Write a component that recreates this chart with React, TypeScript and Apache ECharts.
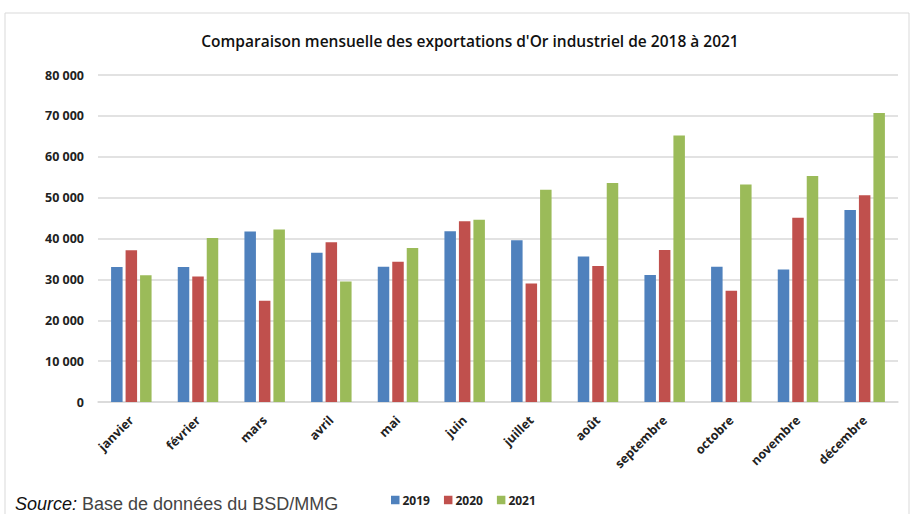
import React, { useEffect, useRef } from "react";
import * as echarts from "echarts";

const months = ["janvier", "février", "mars", "avril", "mai", "juin", "juillet", "août", "septembre", "octobre", "novembre", "décembre"];
const s2019 = [33000, 33000, 41700, 36500, 33100, 41800, 39600, 35600, 31100, 33100, 32400, 47000];
const s2020 = [37100, 30700, 24800, 39100, 34300, 44200, 29000, 33300, 37200, 27200, 45100, 50600];
const s2021 = [31000, 40100, 42200, 29500, 37700, 44600, 51900, 53600, 65200, 53200, 55300, 70700];
const years = ["2019", "2020", "2021"];
const colors = ["#4F81BD", "#C0504D", "#9BBB59"];

export default function App() {
  const ref = useRef<HTMLDivElement>(null);
  useEffect(() => {
    const chart = echarts.init(ref.current!, undefined, { renderer: "svg" });
    const data = [s2019, s2020, s2021];
    chart.setOption({
      animation: false,
      backgroundColor: "#fff",
      title: {
        text: "Comparaison mensuelle des exportations d'Or industriel de 2018 à 2021",
        left: 465,
        textAlign: "center",
        top: 28,
        textStyle: { fontFamily: "Open Sans", fontSize: 15.5, fontWeight: 600, color: "#111" },
      },
      legend: {
        data: years,
        left: 386,
        top: 489,
        itemWidth: 8.5,
        itemHeight: 8.5,
        itemGap: 14,
        icon: "rect",
        textStyle: { fontFamily: "Open Sans", fontSize: 12, fontWeight: 700, color: "#222", padding: [0, 0, 0, -2] },
      },
      grid: { left: 98, right: 14, top: 75, bottom: 112 },
      xAxis: {
        type: "category",
        data: months,
        axisLine: { lineStyle: { color: "#D9D9D9", width: 1.5 } },
        axisTick: { show: false },
        axisLabel: {
          rotate: 45,
          interval: 0,
          margin: 16,
          fontFamily: "Open Sans",
          fontSize: 12.5,
          fontWeight: 700,
          color: "#222",
        },
      },
      yAxis: {
        type: "value",
        min: 0,
        max: 80000,
        interval: 10000,
        axisLine: { show: false },
        axisTick: { show: false },
        splitLine: { lineStyle: { color: "#D9D9D9", width: 1.5 } },
        axisLabel: {
          margin: 14,
          fontFamily: "Open Sans",
          fontSize: 12.5,
          fontWeight: 700,
          color: "#222",
          formatter: (v: number) => String(v).replace(/\B(?=(\d{3})+(?!\d))/g, " "),
        },
      },
      series: years.map((y, i) => ({
        name: y,
        type: "bar",
        data: data[i],
        barWidth: 11.5,
        barGap: "26%",
        itemStyle: { color: colors[i] },
      })),
      graphic: [
        {
          type: "rect",
          shape: { x: 5, y: 13, width: 904, height: 530 },
          style: { fill: "none", stroke: "#D9D9D9", lineWidth: 1 },
          silent: true,
        },
        {
          type: "text",
          left: 15,
          top: 495,
          style: {
            text: "{i|Source:} Base de données du BSD/MMG",
            rich: {
              i: { fontStyle: "italic", fontFamily: "Liberation Sans", fontSize: 18, lineHeight: 18, fill: "#111" },
            },
            fontFamily: "Liberation Sans",
            fontSize: 18,
            lineHeight: 18,
            fill: "#444",
          },
        },
      ],
    });
    return () => chart.dispose();
  }, []);
  return <div ref={ref} style={{ position: "absolute", left: 0, top: 0, width: 912, height: 514 }} />;
}
